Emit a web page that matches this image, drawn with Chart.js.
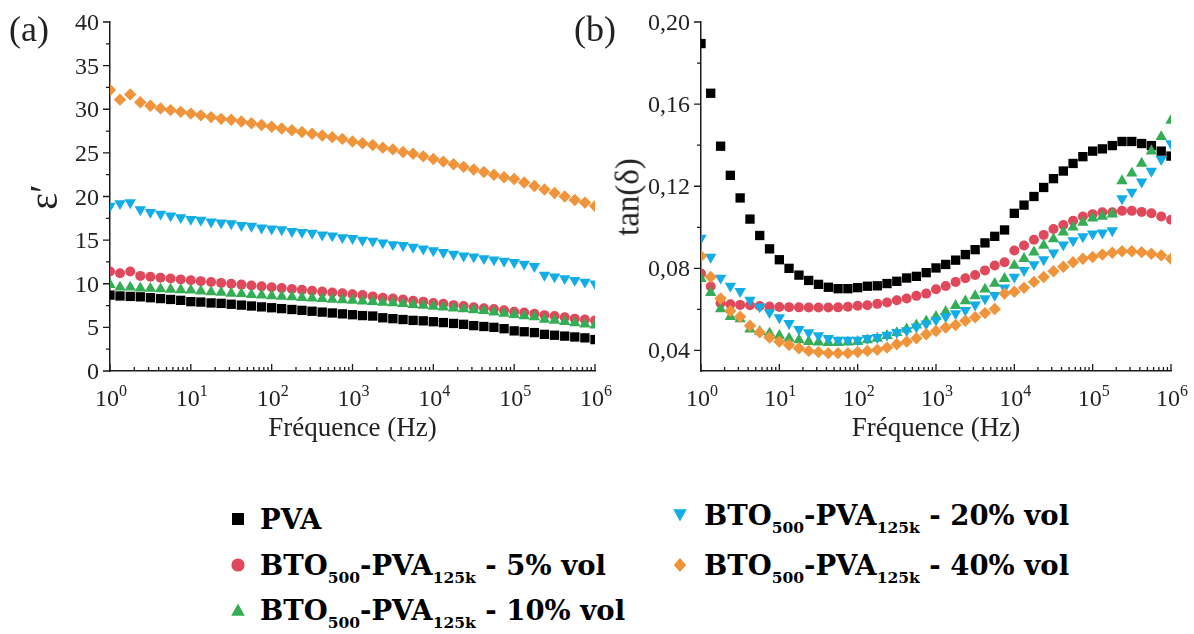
<!DOCTYPE html>
<html>
<head>
<meta charset="utf-8">
<script src="https://cdn.jsdelivr.net/npm/chart.js@4"></script>
<style>
  body { margin: 0; background: #fff; }
  #page { position: relative; width: 1194px; height: 634px; overflow: hidden; }
  canvas { position: absolute; top: 0; }
  .panel { position: absolute; font-family: "Liberation Serif", serif; font-size: 36px; line-height: 36px; color: #222; }
  .tl { position: absolute; font-family: "Liberation Serif", serif; color: #222; line-height: 1; white-space: nowrap; }
  .tl sup { font-size: 16px; vertical-align: 10px; line-height: 0; }
  .leg { position: absolute; height: 30px; line-height: 30px; display: flex; align-items: center;
         font-family: "DejaVu Serif", serif; font-weight: bold; font-size: 27.5px; color: #000; white-space: nowrap; }
  .leg svg { flex: none; }
  .leg sub { font-size: 15.5px; vertical-align: -8px; line-height: 0; }
</style>
</head>
<body>
<div id="page">
  <canvas id="chartA" width="630" height="460" style="left:0"></canvas>
  <canvas id="chartB" width="594" height="460" style="left:600px"></canvas>
  <div class="panel" style="left:9px;top:11px">(a)</div>
  <div class="panel" style="left:574px;top:11px">(b)</div>
</div>
<script>
// measurement frequencies (Hz), 8 points per decade
const freq = [1, 1.33, 1.78, 2.37, 3.16, 4.22, 5.62, 7.5,
  10, 13.3, 17.8, 23.7, 31.6, 42.2, 56.2, 75,
  100, 133, 178, 237, 316, 422, 562, 750,
  1000, 1330, 1780, 2370, 3160, 4220, 5620, 7500,
  10000, 13300, 17800, 23700, 31600, 42200, 56200, 75000,
  100000, 133000, 178000, 237000, 316000, 422000, 562000, 750000, 1000000];

// (a) permittivity
const epsPVA = [8.7, 8.6, 8.55, 8.5, 8.4, 8.3, 8.2, 8.1, 7.95,
  7.9, 7.8, 7.75, 7.65, 7.55, 7.45, 7.35, 7.25,
  7.15, 7.05, 6.95, 6.85, 6.75, 6.65, 6.55, 6.45,
  6.35, 6.3, 6.1, 6.0, 5.9, 5.8, 5.75, 5.65,
  5.55, 5.45, 5.35, 5.2, 5.1, 5.0, 4.85, 4.6,
  4.5, 4.4, 4.2, 4.1, 4.0, 3.9, 3.8, 3.6];
const eps5 = [11.4, 11.2, 11.4, 10.9, 10.8, 10.7, 10.6, 10.5, 10.4,
  10.3, 10.2, 10.1, 10.0, 9.9, 9.8, 9.7, 9.6,
  9.5, 9.4, 9.3, 9.2, 9.1, 9.0, 8.9, 8.8,
  8.7, 8.55, 8.4, 8.3, 8.2, 8.05, 7.95, 7.8,
  7.7, 7.55, 7.45, 7.3, 7.2, 7.1, 6.95, 6.8,
  6.7, 6.55, 6.4, 6.3, 6.15, 6.0, 5.9, 5.8];
const eps10 = [9.9, 9.6, 9.6, 9.5, 9.45, 9.4, 9.35, 9.3, 9.25,
  9.15, 9.05, 9.0, 8.9, 8.85, 8.75, 8.7, 8.6,
  8.55, 8.5, 8.4, 8.35, 8.3, 8.2, 8.15, 8.1,
  8.0, 7.95, 7.85, 7.8, 7.7, 7.6, 7.5, 7.4,
  7.3, 7.2, 7.1, 7.0, 6.9, 6.75, 6.6, 6.45,
  6.3, 6.2, 5.9, 5.8, 5.65, 5.5, 5.35, 5.25];
const eps20 = [18.9, 19.2, 19.3, 18.5, 18.2, 18.0, 17.8, 17.6, 17.4,
  17.3, 17.1, 17.0, 16.9, 16.7, 16.6, 16.4, 16.3,
  16.2, 16.0, 15.9, 15.8, 15.6, 15.5, 15.3, 15.2,
  15.0, 14.9, 14.7, 14.5, 14.4, 14.2, 14.0, 13.8,
  13.6, 13.4, 13.2, 13.1, 12.9, 12.75, 12.6, 12.45,
  12.25, 12.0, 11.0, 10.8, 10.6, 10.4, 10.2, 10.0];
const eps40 = [32.2, 31.1, 31.7, 30.8, 30.4, 30.1, 29.9, 29.7, 29.5,
  29.3, 29.1, 28.9, 28.8, 28.6, 28.4, 28.2, 28.0,
  27.8, 27.6, 27.4, 27.2, 27.0, 26.8, 26.6, 26.3,
  26.1, 25.9, 25.6, 25.4, 25.1, 24.9, 24.6, 24.3,
  24.0, 23.7, 23.4, 23.1, 22.8, 22.5, 22.2, 22.0,
  21.6, 21.2, 20.8, 20.4, 20.0, 19.6, 19.3, 18.9];

// (b) loss tangent
const tanPVA = [0.1895, 0.1653, 0.1395, 0.1253, 0.1143, 0.104, 0.096, 0.0895, 0.0842,
  0.08, 0.0767, 0.0741, 0.0722, 0.0708, 0.0701, 0.0701, 0.0706,
  0.0713, 0.0715, 0.0726, 0.0737, 0.0753, 0.0761, 0.0779, 0.0802,
  0.0819, 0.084, 0.0867, 0.0891, 0.0924, 0.0956, 0.0987, 0.1068,
  0.1108, 0.115, 0.1194, 0.1237, 0.1274, 0.1311, 0.1344, 0.1371,
  0.1382, 0.1398, 0.1418, 0.1418, 0.1408, 0.1398, 0.1371, 0.1347];
const tan5 = [0.0775, 0.0712, 0.063, 0.0625, 0.0622, 0.062, 0.0617, 0.0614, 0.0612,
  0.0611, 0.061, 0.0609, 0.0609, 0.0609, 0.061, 0.0613, 0.0618,
  0.062, 0.0627, 0.0634, 0.0645, 0.0653, 0.0666, 0.0677, 0.0698,
  0.0714, 0.0734, 0.0752, 0.0768, 0.079, 0.0814, 0.083, 0.0887,
  0.0911, 0.0939, 0.0963, 0.0992, 0.1011, 0.1032, 0.1053, 0.1064,
  0.1073, 0.1073, 0.108, 0.108, 0.1075, 0.1068, 0.1053, 0.1037];
const tan10 = [0.075, 0.0681, 0.0602, 0.0565, 0.0553, 0.0504, 0.0492, 0.0484, 0.0472,
  0.0459, 0.0451, 0.0443, 0.044, 0.0438, 0.0438, 0.044, 0.0443,
  0.0451, 0.0459, 0.0472, 0.0486, 0.0504, 0.0523, 0.0543, 0.0565,
  0.0589, 0.0618, 0.0641, 0.0666, 0.0698, 0.0726, 0.075, 0.0814,
  0.0847, 0.0879, 0.0911, 0.0943, 0.0976, 0.1, 0.1024, 0.1044,
  0.1053, 0.1064, 0.1226, 0.1263, 0.1311, 0.1371, 0.1441, 0.1521];
const tan20 = [0.0947, 0.0855, 0.0753, 0.0714, 0.0688, 0.0645, 0.0613, 0.0585, 0.056,
  0.0532, 0.0503, 0.0487, 0.0473, 0.0459, 0.0451, 0.0451, 0.0451,
  0.0459, 0.0464, 0.0475, 0.0488, 0.0497, 0.0515, 0.053, 0.0548,
  0.0565, 0.058, 0.0596, 0.0622, 0.0653, 0.0669, 0.0705, 0.0758,
  0.079, 0.0819, 0.0843, 0.0876, 0.0915, 0.0935, 0.0955, 0.0968,
  0.0973, 0.0984, 0.114, 0.1172, 0.1221, 0.1274, 0.1331, 0.1408];
const tan40 = [0.086, 0.0758, 0.0653, 0.0592, 0.0564, 0.0521, 0.0488, 0.0463, 0.0443,
  0.0427, 0.0411, 0.0398, 0.0392, 0.0387, 0.0387, 0.0387, 0.0392,
  0.0398, 0.0403, 0.0414, 0.043, 0.0443, 0.0459, 0.0479, 0.0495,
  0.0512, 0.0524, 0.0545, 0.0562, 0.0582, 0.0602, 0.0677, 0.0686,
  0.0705, 0.0734, 0.0758, 0.0786, 0.0808, 0.083, 0.0847, 0.0855,
  0.0867, 0.0876, 0.0883, 0.0883, 0.0879, 0.0871, 0.0863, 0.0847];

const seriesNames = ['PVA',
  'BTO<sub>500</sub>-PVA<sub>125k</sub> - 5% vol',
  'BTO<sub>500</sub>-PVA<sub>125k</sub> - 10% vol',
  'BTO<sub>500</sub>-PVA<sub>125k</sub> - 20% vol',
  'BTO<sub>500</sub>-PVA<sub>125k</sub> - 40% vol'];
const seriesColors = ['#000000', '#e0485b', '#35ad55', '#12ade6', '#f0943b'];
const seriesShapes = ['rect', 'circle', 'triangle', 'triangleDown', 'rectRot'];

const epsTicks = [0, 5, 10, 15, 20, 25, 30, 35, 40];
const epsMinor = [2.5, 7.5, 12.5, 17.5, 22.5, 27.5, 32.5, 37.5];
const tanTicks = [0.04, 0.08, 0.12, 0.16, 0.20];
const tanMinor = [0.06, 0.10, 0.14, 0.18];
const decadeExps = [0, 1, 2, 3, 4, 5, 6];
const minorMult = [2, 3, 4, 5, 6, 7, 8, 9];

const axisCol = '#1a1a1a';
const page = document.getElementById('page');

// tick marks: y outward, x inward, minor ones shorter
const axisTicks = {
  id: 'axisTicks',
  afterDraw(chart) {
    const o = chart.options.plugins.axisTicks;
    const ctx = chart.ctx, a = chart.chartArea, x = chart.scales.x, y = chart.scales.y;
    ctx.save();
    ctx.strokeStyle = axisCol;
    ctx.lineWidth = 1.3;
    ctx.beginPath();
    o.yMajor.forEach(v => { const p = y.getPixelForValue(v); ctx.moveTo(a.left - 7, p); ctx.lineTo(a.left, p); });
    o.yMinor.forEach(v => { const p = y.getPixelForValue(v); ctx.moveTo(a.left - 4, p); ctx.lineTo(a.left, p); });
    decadeExps.forEach(k => {
      const p = x.getPixelForValue(Math.pow(10, k));
      ctx.moveTo(p, a.bottom); ctx.lineTo(p, a.bottom - 7);
      if (k < 6) minorMult.forEach(m => {
        const q = x.getPixelForValue(m * Math.pow(10, k));
        ctx.moveTo(q, a.bottom); ctx.lineTo(q, a.bottom - 4);
      });
    });
    ctx.stroke();
    ctx.restore();
  }
};

function makeSets(lists) {
  return lists.map((vals, i) => ({
    label: seriesNames[i],
    data: freq.map((f, j) => ({ x: f, y: vals[j] })),
    backgroundColor: seriesColors[i],
    borderColor: seriesColors[i],
    pointStyle: seriesShapes[i] === 'triangleDown' ? 'triangle' : seriesShapes[i],
    rotation: seriesShapes[i] === 'triangleDown' ? 180 : 0,
    pointRadius: seriesShapes[i] === 'rect' ? 6.6 : (seriesShapes[i] === 'circle' ? 5 : (seriesShapes[i] === 'rectRot' ? 6.2 : 6.6)),
    pointBorderWidth: 0,
    showLine: false,
    order: lists.length - i
  }));
}

function makeChart(id, lists, yMin, yMax, yTicks, yMinor, yWidth, padRight) {
  return new Chart(document.getElementById(id), {
    type: 'scatter',
    data: { datasets: makeSets(lists) },
    options: {
      responsive: false,
      animation: false,
      layout: { padding: { top: 22, right: padRight, bottom: 0, left: 0 } },
      plugins: {
        legend: { display: false },
        tooltip: { enabled: false },
        axisTicks: { yMajor: yTicks, yMinor: yMinor }
      },
      scales: {
        x: {
          type: 'logarithmic', min: 1, max: 1e6,
          ticks: { display: false },
          grid: { display: false, drawTicks: false },
          border: { display: true, color: axisCol, width: 1.5 },
          afterFit(s) { s.height = 89; }
        },
        y: {
          min: yMin, max: yMax,
          afterBuildTicks(s) { s.ticks = yTicks.map(v => ({ value: v })); },
          ticks: { display: false },
          grid: { display: false, drawTicks: false },
          border: { display: true, color: axisCol, width: 1.5 },
          afterFit(s) { s.width = yWidth; }
        }
      }
    },
    plugins: [axisTicks]
  });
}

function addText(html, left, top, size, transform) {
  const d = document.createElement('div');
  d.className = 'tl';
  d.style.left = left + 'px';
  d.style.top = top + 'px';
  d.style.fontSize = size + 'px';
  d.style.transform = transform;
  d.innerHTML = html;
  page.appendChild(d);
}

// axis texts placed from the chart's own scales
function labelAxes(chart, offsetX, yTicks, fmt, yTitle, titleSize, titleX) {
  const a = chart.chartArea, x = chart.scales.x, y = chart.scales.y;
  yTicks.forEach(v => addText(fmt(v), offsetX + a.left - 11, y.getPixelForValue(v), 24, 'translate(-100%, -50%)'));
  decadeExps.forEach(k => addText('10<sup>' + k + '</sup>', offsetX + x.getPixelForValue(Math.pow(10, k)) + 1, a.bottom + 15, 24, 'translateX(-50%)'));
  addText('Fréquence (Hz)', offsetX + (a.left + a.right) / 2, a.bottom + 43, 27, 'translateX(-50%)');
  addText(yTitle, offsetX + titleX, (a.top + a.bottom) / 2, titleSize, 'translate(-50%, -50%) rotate(-90deg)');
}

const legendSlots = [[231, 504], [231, 550], [231, 595], [673, 500], [673, 550]];
const markerSvg = {
  rect: '<rect x="1" y="1" width="12" height="12"/>',
  circle: '<circle cx="7" cy="7" r="6.6"/>',
  triangle: '<polygon points="7,0.6 13.8,12.8 0.2,12.8"/>',
  triangleDown: '<polygon points="0.2,1.2 13.8,1.2 7,13.4"/>',
  rectRot: '<polygon points="7,0 13.2,7 7,14 0.8,7"/>'
};

function buildLegend() {
  seriesNames.forEach((name, i) => {
    const d = document.createElement('div');
    d.className = 'leg';
    d.style.left = legendSlots[i][0] + 'px';
    d.style.top = legendSlots[i][1] + 'px';
    const gap = i < 3 ? 15 : 17;
    d.innerHTML = '<svg width="14" height="14" style="margin-right:' + gap + 'px" fill="' + seriesColors[i] + '">' +
      markerSvg[seriesShapes[i]] + '</svg><span>' + name + '</span>';
    page.appendChild(d);
  });
}

const chartA = makeChart('chartA', [epsPVA, eps5, eps10, eps20, eps40], 0, 40, epsTicks, epsMinor, 110, 35);
const chartB = makeChart('chartB', [tanPVA, tan5, tan10, tan20, tan40], 0.03, 0.20, tanTicks, tanMinor, 101, 23);
labelAxes(chartA, 0, epsTicks, v => String(v), 'ε′', 40, 44);
labelAxes(chartB, 600, tanTicks, v => v.toFixed(2).replace('.', ','), 'tan(δ)', 33, 28);
buildLegend();
</script>
</body>
</html>
